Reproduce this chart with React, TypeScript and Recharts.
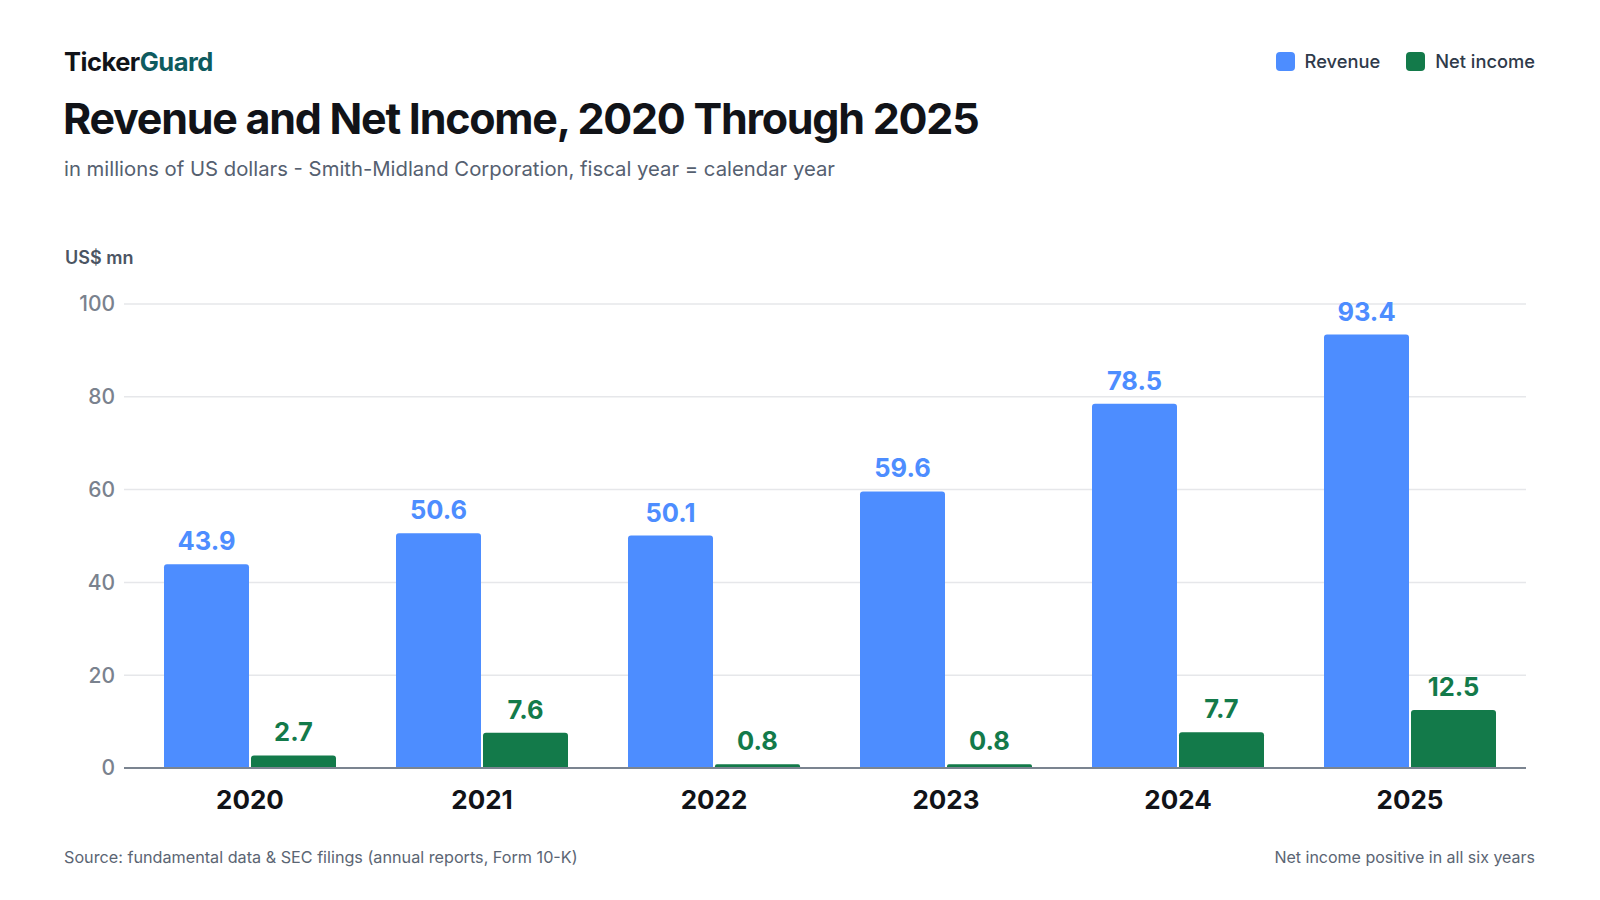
import React from "react";
import { Bar, BarChart, CartesianGrid, LabelList, XAxis, YAxis } from "recharts";

const years = ["2020", "2021", "2022", "2023", "2024", "2025"];
const revenue = [43.9, 50.6, 50.1, 59.6, 78.5, 93.4];
const netIncome = [2.7, 7.6, 0.8, 0.8, 7.7, 12.5];
const yTicks = [0, 20, 40, 60, 80, 100];

const BLUE = "#4d8dff";
const GREEN = "#137a4a";
const FONT = "Inter, 'Noto Sans', sans-serif";

const data = years.map((year, i) => ({
  year,
  revenue: revenue[i],
  netIncome: netIncome[i],
}));

const fmt = (v: any) => Number(v).toFixed(1);

export default function App() {
  return (
    <div
      style={{
        position: "absolute",
        left: 0,
        top: 0,
        width: 1600,
        height: 900,
        background: "#ffffff",
        fontFamily: FONT,
        overflow: "hidden",
      }}
    >
      <div style={{ position: "absolute", left: 64, top: 49, fontSize: 25.5, fontWeight: 700, lineHeight: 1, letterSpacing: -0.5, color: "#111318" }}>
        Ticker<span style={{ color: "#0e5b5f" }}>Guard</span>
      </div>
      <div style={{ position: "absolute", left: 63, top: 97, fontSize: 43, fontWeight: 700, lineHeight: 1, letterSpacing: -1.25, color: "#111318", whiteSpace: "nowrap" }}>
        Revenue and Net Income, 2020 Through 2025
      </div>
      <div style={{ position: "absolute", left: 64, top: 158.5, fontSize: 20.3, lineHeight: 1, color: "#556070", whiteSpace: "nowrap" }}>
        in millions of US dollars - Smith-Midland Corporation, fiscal year = calendar year
      </div>

      {/* legend */}
      <div style={{ position: "absolute", right: 65, top: 52, display: "flex", alignItems: "center", fontSize: 18.3, fontWeight: 500, lineHeight: 1, color: "#2f3a4a" }}>
        <span style={{ width: 19, height: 19, borderRadius: 4, background: BLUE, marginRight: 10 }} />
        <span style={{ marginRight: 26 }}>Revenue</span>
        <span style={{ width: 19, height: 19, borderRadius: 4, background: GREEN, marginRight: 10 }} />
        <span>Net income</span>
      </div>

      <div style={{ position: "absolute", left: 65, top: 248.5, fontSize: 18, fontWeight: 600, lineHeight: 1, color: "#4b5563" }}>
        US$ mn
      </div>

      <div style={{ position: "absolute", left: 0, top: 0 }}>
        <BarChart
          width={1600}
          height={900}
          data={data}
          margin={{ top: 304, right: 74, bottom: 102, left: 64 }}
          barSize={85}
          barGap={2}
        >
          <CartesianGrid stroke="#e6e7ea" strokeWidth={1.5} vertical={false} />
          <XAxis
            dataKey="year"
            height={30}
            padding={{ left: 10, right: 0 }}
            tickLine={false}
            tickSize={0}
            tickMargin={23}
            axisLine={{ stroke: "#7b8490", strokeWidth: 2 }}
            tick={{ fontSize: 26, fontWeight: 700, fill: "#111318", fontFamily: FONT }}
          />
          <YAxis
            width={60}
            domain={[0, 100]}
            ticks={yTicks}
            tickLine={false}
            axisLine={false}
            tickSize={0}
            tickMargin={9}
            tick={{ fontSize: 21, fontWeight: 500, fill: "#7a828e", fontFamily: FONT }}
          />
          <Bar dataKey="revenue" fill={BLUE} radius={[3, 3, 0, 0]} isAnimationActive={false}>
            <LabelList
              dataKey="revenue"
              position="top"
              offset={14}
              formatter={fmt}
              style={{ fontSize: 25.5, fontWeight: 700, fill: BLUE, fontFamily: FONT }}
            />
          </Bar>
          <Bar dataKey="netIncome" fill={GREEN} radius={[3, 3, 0, 0]} isAnimationActive={false}>
            <LabelList
              dataKey="netIncome"
              position="top"
              offset={14}
              formatter={fmt}
              style={{ fontSize: 25.5, fontWeight: 700, fill: GREEN, fontFamily: FONT }}
            />
          </Bar>
        </BarChart>
      </div>

      <div style={{ position: "absolute", left: 64, top: 849, fontSize: 16.2, lineHeight: 1, color: "#5b6573", whiteSpace: "nowrap" }}>
        Source: fundamental data &amp; SEC filings (annual reports, Form 10-K)
      </div>
      <div style={{ position: "absolute", right: 65, top: 849, fontSize: 16, lineHeight: 1, color: "#5b6573", whiteSpace: "nowrap" }}>
        Net income positive in all six years
      </div>
    </div>
  );
}
